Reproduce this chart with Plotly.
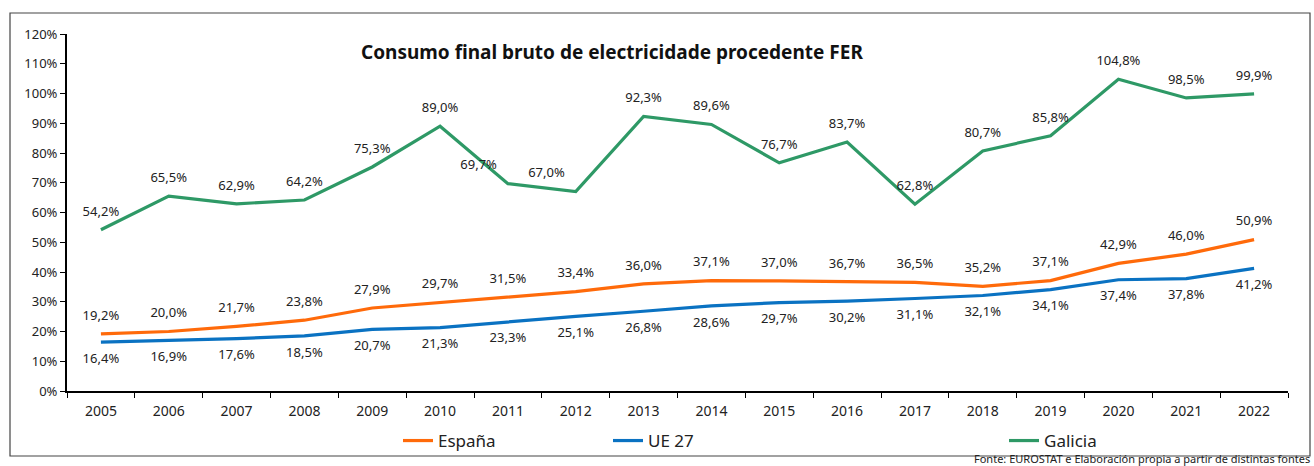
import plotly.graph_objects as go

years = ["2005", "2006", "2007", "2008", "2009", "2010", "2011", "2012", "2013",
         "2014", "2015", "2016", "2017", "2018", "2019", "2020", "2021", "2022"]
espana = [19.2, 20.0, 21.7, 23.8, 27.9, 29.7, 31.5, 33.4, 36.0, 37.1, 37.0, 36.7,
          36.5, 35.2, 37.1, 42.9, 46.0, 50.9]
ue27 = [16.4, 16.9, 17.6, 18.5, 20.7, 21.3, 23.3, 25.1, 26.8, 28.6, 29.7, 30.2,
        31.1, 32.1, 34.1, 37.4, 37.8, 41.2]
galicia = [54.2, 65.5, 62.9, 64.2, 75.3, 89.0, 69.7, 67.0, 92.3, 89.6, 76.7, 83.7,
           62.8, 80.7, 85.8, 104.8, 98.5, 99.9]
y_ticks = list(range(0, 121, 10))
y_labels = [f"{v}%" for v in y_ticks]

FONT = "Noto Sans"
fig = go.Figure()

L, R, T, B = 67, 26, 34, 75
W, H = 1314, 466
pw = W - L - R
ph = H - T - B

def px(xp):
    return (xp - L) / pw

def py(yp):
    return (H - B - yp) / ph

def add(name, vals, color, pos, legend):
    fig.add_trace(go.Scatter(
        x=years, y=vals, name=name, mode="lines+markers+text",
        line=dict(color=color, width=3.2),
        marker=dict(size=16, color="rgba(0,0,0,0)"),
        text=vals, texttemplate="%{y:.1f}%", textposition=pos,
        textfont=dict(family=FONT, size=13, color="#222222"),
        cliponaxis=False, legend=legend, showlegend=True,
    ))

gal_pos = ["top center"] * len(years)
gal_pos[6] = "top left"
gal_pos[7] = "top left"

add("España", espana, "#FF6A0A", "top center", "legend")
add("UE 27", ue27, "#0A72C2", "bottom center", "legend2")
add("Galicia", galicia, "#2E9966", gal_pos, "legend3")

fig.add_shape(type="rect", xref="paper", yref="paper",
              x0=px(10), x1=px(1310), y0=py(456), y1=py(13),
              line=dict(color="#444444", width=1.2), fillcolor="rgba(0,0,0,0)",
              layer="below")

fig.add_annotation(text="<b>Consumo final bruto de electricidade procedente FER</b>",
                   xref="paper", yref="paper", x=px(612), y=py(52),
                   showarrow=False, xanchor="center", yanchor="middle",
                   font=dict(family=FONT, size=19, color="#111111"))
fig.add_annotation(text="Fonte: EUROSTAT e Elaboración propia a partir de distintas fontes",
                   xref="paper", yref="paper", x=px(1312), y=py(458),
                   showarrow=False, xanchor="right", yanchor="middle",
                   font=dict(family=FONT, size=11, color="#222222"))

def leg(xp):
    return dict(orientation="h", xref="paper", yref="paper", x=px(xp), y=py(441),
                xanchor="left", yanchor="middle", bgcolor="rgba(0,0,0,0)",
                font=dict(family=FONT, size=17, color="#222222"))

fig.update_layout(
    width=W, height=H,
    margin=dict(l=L, r=R, t=T, b=B, autoexpand=False),
    paper_bgcolor="white", plot_bgcolor="white",
    separators=",.",
    showlegend=True,
    font=dict(family=FONT, size=13, color="#222222"),
    legend=leg(398), legend2=leg(608), legend3=leg(1004),
    xaxis=dict(type="category", range=[-0.5, 17.5], autorange=False,
               showline=True, linecolor="black", linewidth=2,
               ticks="outside", tickson="boundaries", ticklen=5, tickcolor="black",
               ticklabelstandoff=6, automargin=False,
               showgrid=False, tickfont=dict(family=FONT, size=14)),
    yaxis=dict(range=[0, 120], autorange=False, tickvals=y_ticks, ticktext=y_labels,
               showline=True, linecolor="black", linewidth=2, ticks="outside",
               ticklen=5, tickcolor="black", showgrid=False, zeroline=False,
               automargin=False, tickfont=dict(family=FONT, size=13)),
)

fig.write_html("out.html", config={"displayModeBar": False},
               post_script="document.body.style.margin='0';document.body.style.overflow='hidden';")
